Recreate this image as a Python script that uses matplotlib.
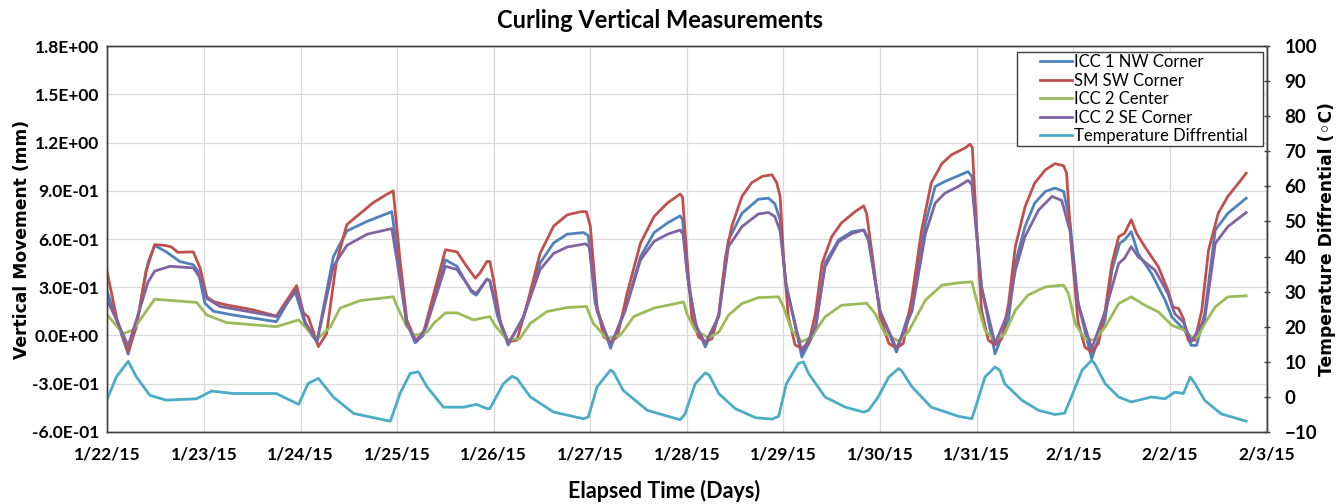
import matplotlib
matplotlib.use("Agg")
import matplotlib.pyplot as plt
from matplotlib.ticker import FuncFormatter, FixedLocator
from matplotlib.patches import Rectangle

# ---------------- data (x in days after 1/22/15) ----------------
date_labels = ["1/22/15", "1/23/15", "1/24/15", "1/25/15", "1/26/15", "1/27/15", "1/28/15",
               "1/29/15", "1/30/15", "1/31/15", "2/1/15", "2/2/15", "2/3/15"]

nw_t = [0, 0.216, 0.33, 0.42, 0.49, 0.61, 0.75, 0.89, 0.94, 1.01, 1.10, 1.30, 1.75, 1.94, 2.06, 2.17,
        2.34, 2.48, 2.69, 2.945, 3.03, 3.10, 3.186, 3.27, 3.38, 3.50, 3.62, 3.77, 3.82, 3.93, 3.96, 4.04,
        4.15, 4.31, 4.48, 4.62, 4.76, 4.93, 4.98, 5.05, 5.21, 5.38, 5.52, 5.66, 5.80, 5.93, 5.955, 6.0,
        6.086, 6.19, 6.33, 6.43, 6.57, 6.74, 6.845, 6.91, 6.965, 7.02, 7.19, 7.33, 7.43, 7.57, 7.71, 7.83,
        7.88, 8.0, 8.17, 8.33, 8.47, 8.57, 8.67, 8.81, 8.91, 8.95, 9.05, 9.19, 9.33, 9.40, 9.5, 9.60,
        9.71, 9.81, 9.90, 9.966, 10.05, 10.19, 10.33, 10.40, 10.48, 10.53, 10.60, 10.67, 10.81, 10.95,
        11.02, 11.12, 11.155, 11.22, 11.276, 11.36, 11.47, 11.60, 11.79]
nw_v = [0.27, -0.117, 0.15, 0.45, 0.56, 0.52, 0.46, 0.44, 0.40, 0.20, 0.15, 0.127, 0.085, 0.28, 0.05, -0.04,
        0.49, 0.65, 0.71, 0.77, 0.40, 0.08, -0.046, 0.0, 0.22, 0.47, 0.43, 0.27, 0.25, 0.35, 0.34, 0.12,
        -0.06, 0.12, 0.45, 0.575, 0.63, 0.64, 0.62, 0.20, -0.08, 0.20, 0.49, 0.64, 0.70, 0.744, 0.72, 0.40,
        0.08, -0.073, 0.12, 0.594, 0.76, 0.848, 0.854, 0.82, 0.72, 0.34, -0.135, 0.03, 0.45, 0.594, 0.646, 0.656,
        0.59, 0.15, -0.104, 0.20, 0.70, 0.927, 0.958, 0.994, 1.02, 0.99, 0.30, -0.115, 0.10, 0.448, 0.677, 0.823,
        0.896, 0.917, 0.896, 0.70, 0.20, -0.146, 0.10, 0.406, 0.573, 0.594, 0.646, 0.51, 0.385, 0.219,
        0.115, 0.052, 0.03, -0.0625, -0.0625, 0.135, 0.656, 0.76, 0.854]

sw_t = [0, 0.10, 0.216, 0.30, 0.40, 0.49, 0.60, 0.665, 0.73, 0.89, 0.96, 1.03, 1.10, 1.23, 1.50, 1.75,
        1.96, 2.03, 2.08, 2.185, 2.27, 2.37, 2.48, 2.62, 2.75, 2.89, 2.96, 3.03, 3.10, 3.19, 3.27, 3.38,
        3.50, 3.62, 3.72, 3.81, 3.86, 3.93, 3.96, 3.997, 4.07, 4.15, 4.24, 4.34, 4.48, 4.62, 4.76, 4.90,
        4.96, 5.0, 5.07, 5.14, 5.21, 5.28, 5.38, 5.52, 5.66, 5.80, 5.93, 5.955, 6.0, 6.05, 6.12, 6.19,
        6.26, 6.33, 6.40, 6.465, 6.57, 6.67, 6.78, 6.88, 6.93, 6.965, 7.0, 7.05, 7.12, 7.19, 7.26, 7.33,
        7.40, 7.5, 7.60, 7.74, 7.83, 7.86, 7.93, 8.0, 8.09, 8.17, 8.24, 8.33, 8.43, 8.53, 8.64, 8.74,
        8.81, 8.88, 8.93, 8.955, 9.0, 9.05, 9.12, 9.19, 9.26, 9.33, 9.40, 9.5, 9.60, 9.71, 9.81, 9.90,
        9.93, 9.98, 10.05, 10.12, 10.19, 10.26, 10.33, 10.40, 10.47, 10.53, 10.60, 10.655, 10.74, 10.88,
        10.98, 11.03, 11.09, 11.14, 11.19, 11.26, 11.33, 11.40, 11.5, 11.60, 11.71, 11.79]
sw_v = [0.39, 0.10, -0.10, 0.05, 0.40, 0.565, 0.56, 0.55, 0.517, 0.52, 0.42, 0.24, 0.21, 0.19, 0.16, 0.12,
        0.31, 0.14, 0.115, -0.07, 0.01, 0.45, 0.69, 0.76, 0.825, 0.877, 0.90, 0.47, 0.096, -0.03, 0.01, 0.26,
        0.533, 0.52, 0.43, 0.356, 0.39, 0.46, 0.46, 0.35, 0.075, -0.04, -0.03, 0.18, 0.51, 0.68, 0.75, 0.77,
        0.77, 0.68, 0.18, -0.01, -0.04, -0.01, 0.26, 0.575, 0.74, 0.825, 0.88, 0.86, 0.49, 0.115, -0.01, -0.04,
        -0.02, 0.135, 0.49, 0.68, 0.865, 0.95, 0.99, 1.0, 0.95, 0.865, 0.49, 0.115, -0.06, -0.08, -0.05, 0.135,
        0.45, 0.615, 0.70, 0.77, 0.806, 0.76, 0.45, 0.115, -0.05, -0.08, -0.05, 0.24, 0.656, 0.95, 1.07, 1.125,
        1.146, 1.167, 1.19, 1.17, 0.656, 0.156, -0.03, -0.06, -0.02, 0.198, 0.552, 0.80, 0.948, 1.03, 1.069, 1.056,
        1.01, 0.552, 0.08, -0.073, -0.104, -0.05, 0.156, 0.448, 0.615, 0.635, 0.72, 0.635, 0.552, 0.427,
        0.28, 0.177, 0.167, 0.104, -0.03, -0.03, 0.156, 0.53, 0.76, 0.865, 0.948, 1.01]

ctr_t = [0, 0.164, 0.268, 0.49, 0.924, 1.03, 1.23, 1.75, 1.98, 2.17, 2.31, 2.41, 2.62, 2.96, 3.0, 3.10,
         3.186, 3.31, 3.38, 3.50, 3.62, 3.79, 3.96, 4.01, 4.14, 4.27, 4.38, 4.55, 4.76, 4.96, 5.03, 5.17,
         5.31, 5.45, 5.66, 5.966, 6.0, 6.086, 6.224, 6.33, 6.43, 6.57, 6.74, 6.95, 7.0, 7.086, 7.19, 7.29,
         7.43, 7.60, 7.86, 7.95, 8.05, 8.19, 8.29, 8.47, 8.64, 8.81, 8.95, 8.98, 9.086, 9.19, 9.29, 9.40,
         9.53, 9.71, 9.90, 9.95, 10.02, 10.12, 10.22, 10.33, 10.47, 10.60, 10.74, 10.88, 11.02, 11.155,
         11.24, 11.29, 11.36, 11.47, 11.60, 11.79]
ctr_v = [0.127, 0.01, 0.035, 0.225, 0.205, 0.127, 0.08, 0.054, 0.096, -0.025, 0.054, 0.17, 0.217, 0.24, 0.18, 0.054,
         0.0, 0.02, 0.075, 0.14, 0.14, 0.096, 0.117, 0.065, -0.03, -0.02, 0.075, 0.148, 0.173, 0.18, 0.075, -0.02,
         0.0, 0.117, 0.17, 0.208, 0.135, 0.03, -0.015, 0.02, 0.125, 0.198, 0.235, 0.24, 0.177, 0.03, -0.04, -0.01,
         0.115, 0.1875, 0.20, 0.135, 0.01, -0.035, 0.02, 0.22, 0.3125, 0.327, 0.333, 0.26, 0.03, -0.035, 0.01, 0.156,
         0.25, 0.302, 0.3125, 0.26, 0.073, -0.02, -0.03, 0.052, 0.198, 0.24, 0.1875, 0.146, 0.0625, 0.031,
         -0.02, -0.01, 0.073, 0.177, 0.24, 0.246]

se_t = [0, 0.216, 0.33, 0.42, 0.49, 0.65, 0.89, 0.96, 1.03, 1.166, 1.75, 1.96, 2.05, 2.17, 2.34, 2.48,
        2.69, 2.945, 3.03, 3.10, 3.20, 3.30, 3.50, 3.62, 3.77, 3.82, 3.93, 3.96, 4.05, 4.15, 4.30, 4.48,
        4.62, 4.76, 4.95, 4.99, 5.07, 5.21, 5.36, 5.52, 5.66, 5.80, 5.93, 5.96, 6.02, 6.10, 6.19, 6.33,
        6.43, 6.57, 6.74, 6.845, 6.91, 6.965, 7.03, 7.19, 7.33, 7.43, 7.57, 7.71, 7.83, 7.88, 8.0, 8.17,
        8.33, 8.47, 8.57, 8.67, 8.81, 8.91, 8.95, 9.05, 9.19, 9.33, 9.40, 9.5, 9.64, 9.78, 9.88, 9.966,
        10.05, 10.19, 10.33, 10.47, 10.53, 10.60, 10.67, 10.845, 10.98, 11.05, 11.14, 11.22, 11.36, 11.47,
        11.60, 11.79]
se_v = [0.22, -0.065, 0.15, 0.33, 0.40, 0.43, 0.42, 0.36, 0.23, 0.18, 0.117, 0.28, 0.08, -0.04, 0.43, 0.56,
        0.63, 0.665, 0.35, 0.07, -0.04, 0.05, 0.43, 0.41, 0.28, 0.26, 0.35, 0.34, 0.12, -0.05, 0.10, 0.41,
        0.51, 0.55, 0.57, 0.55, 0.15, -0.06, 0.15, 0.47, 0.585, 0.63, 0.656, 0.63, 0.30, 0.05, -0.05, 0.12,
        0.552, 0.677, 0.756, 0.765, 0.74, 0.65, 0.30, -0.104, 0.05, 0.427, 0.583, 0.635, 0.656, 0.60, 0.15, -0.083,
        0.15, 0.635, 0.823, 0.885, 0.927, 0.965, 0.94, 0.30, -0.052, 0.15, 0.406, 0.615, 0.78, 0.865, 0.84, 0.65,
        0.20, -0.083, 0.15, 0.448, 0.48, 0.552, 0.49, 0.406, 0.26, 0.135, 0.083, -0.04, 0.10, 0.573,
        0.677, 0.765]

tmp_t = [0, 0.095, 0.216, 0.30, 0.44, 0.61, 0.924, 1.08, 1.30, 1.75, 1.98, 2.08, 2.185, 2.34, 2.55, 2.93,
         3.03, 3.135, 3.22, 3.31, 3.48, 3.69, 3.82, 3.93, 3.96, 4.10, 4.19, 4.24, 4.38, 4.62, 4.93, 4.98,
         5.07, 5.21, 5.24, 5.34, 5.59, 5.93, 5.98, 6.086, 6.19, 6.23, 6.33, 6.5, 6.71, 6.88, 6.95, 7.03,
         7.155, 7.207, 7.26, 7.43, 7.64, 7.83, 7.88, 7.98, 8.09, 8.19, 8.22, 8.33, 8.53, 8.81, 8.95, 9.0,
         9.086, 9.19, 9.24, 9.29, 9.47, 9.64, 9.81, 9.91, 9.98, 10.09, 10.19, 10.22, 10.33, 10.47, 10.60,
         10.81, 10.95, 11.05, 11.14, 11.21, 11.26, 11.36, 11.53, 11.79]
tmp_v = [-0.6, 5.7, 10.1, 5.7, 0.4, -1.0, -0.6, 1.6, 0.9, 0.9, -2.2, 3.8, 5.2, -0.1, -4.8, -7.0,
         0.9, 6.6, 7.1, 2.8, -3.0, -3.0, -2.2, -3.4, -3.4, 3.7, 5.8, 5.2, -0.1, -4.4, -6.3, -5.8,
         2.8, 7.6, 7.0, 1.8, -3.9, -6.6, -5.0, 3.7, 6.8, 6.2, 0.9, -3.4, -6.0, -6.4, -5.6, 3.7,
         9.5, 9.9, 6.6, -0.1, -3.0, -4.4, -3.9, -0.1, 5.6, 8.0, 7.5, 2.8, -3.0, -5.6, -6.3, -2.0,
         5.6, 8.5, 7.5, 3.7, -1.05, -3.9, -5.1, -4.7, -0.1, 7.5, 10.4, 9.5, 3.7, -0.1, -1.5,
         -0.1, -0.6, 1.3, 0.9, 5.6, 3.7, -1.05, -4.9, -7.0]

series_names = ["ICC 1 NW Corner", "SM SW Corner", "ICC 2 Center", "ICC 2 SE Corner",
                "Temperature Diffrential"]
colors = ["#4F81BD", "#C0504D", "#9BBB59", "#8064A2", "#4BACC6"]

# ---------------- figure ----------------
W, H, DPI = 1342, 504, 100
fig = plt.figure(figsize=(W / DPI, H / DPI), dpi=DPI)
cal = ["Lato", "DejaVu Sans"]
ax = fig.add_axes([107.3 / W, (H - 431.7) / H, (1266.5 - 107.3) / W, (431.7 - 46.3) / H])
ax2 = ax.twinx()

lw = 2.0
lines = []
lines += ax.plot(nw_t, nw_v, color=colors[0], lw=lw, label=series_names[0])
lines += ax.plot(sw_t, sw_v, color=colors[1], lw=lw, label=series_names[1])
lines += ax.plot(ctr_t, ctr_v, color=colors[2], lw=lw, label=series_names[2])
lines += ax.plot(se_t, se_v, color=colors[3], lw=lw, label=series_names[3])
lines += ax2.plot(tmp_t, tmp_v, color=colors[4], lw=lw, label=series_names[4])

ax.set_xlim(0, 12)
ax.set_ylim(-0.6, 1.8)
ax2.set_ylim(-10, 100)
ax.xaxis.set_major_locator(FixedLocator(list(range(len(date_labels)))))
ax.set_xticklabels(date_labels)
ax.yaxis.set_major_locator(FixedLocator([-0.6 + 0.3 * i for i in range(9)]))
ax.yaxis.set_major_formatter(FuncFormatter(lambda v, p: f"{v:.1E}"))
ax2.yaxis.set_major_locator(FixedLocator(list(range(-10, 101, 10))))

ax.grid(True, color="#D9D9D9", lw=0.9)
ax.set_axisbelow(True)
for a in (ax, ax2):
    for s in a.spines.values():
        s.set_color("#404040")
        s.set_linewidth(1.0)

ax.tick_params(axis="both", length=0)
ax.tick_params(axis="y", pad=6)
ax.tick_params(axis="x", pad=11)
ax2.tick_params(axis="y", length=4, width=1, color="#404040", direction="inout", pad=11)

for lab in ax.get_xticklabels() + ax.get_yticklabels():
    lab.set_family(cal); lab.set_fontweight("bold"); lab.set_fontsize(12.5)
for lab in ax2.get_yticklabels():
    lab.set_family(cal); lab.set_fontweight("bold"); lab.set_fontsize(13.5)

ax.set_ylabel("Vertical Movement (mm)", family="DejaVu Sans", fontweight="bold", fontsize=12.3)
ax.yaxis.set_label_coords(-0.066, 0.5)
ax2.set_ylabel("Temperature Diffrential (\u25e6C)", family="DejaVu Sans", fontweight="bold",
               fontsize=12.3, rotation=90)
ax2.yaxis.set_label_coords(1.044, 0.5)
ax.set_xlabel("Elapsed Time (Days)", family=cal, fontweight="bold", fontsize=15.5)
ax.xaxis.set_label_coords(0.4805, -0.125)

fig.text(660 / W, 1 - 20 / H, "Curling Vertical Measurements", family=cal, fontweight="bold",
         fontsize=17, ha="center", va="center")

leg = ax2.legend(handles=lines, loc="upper right", bbox_to_anchor=(0.9853, 0.9844),
                 borderaxespad=0, frameon=False, prop={"family": cal, "size": 12},
                 handlelength=1.95, handletextpad=0.1, labelspacing=0.15, borderpad=0.12)

fig.canvas.draw()
bb = leg.get_window_extent()
pad_l, pad_r = 21, 14
rect = Rectangle((bb.x0 - pad_l, bb.y0), bb.width + pad_l + pad_r, bb.height, transform=None,
                 fill=True, facecolor="white", edgecolor="#404040", lw=1.0, zorder=leg.get_zorder() - 0.1)
ax2.add_artist(rect)

fig.savefig("out.png", dpi=DPI)
